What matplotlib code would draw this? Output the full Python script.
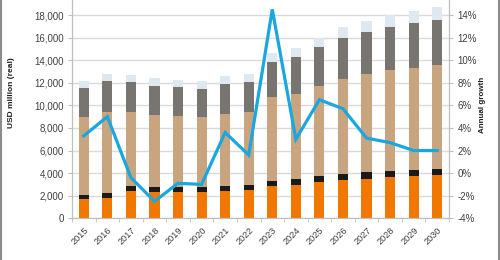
import numpy as np
import matplotlib
matplotlib.use("Agg")
import matplotlib.pyplot as plt
from matplotlib.lines import Line2D
from matplotlib.ticker import FuncFormatter, MultipleLocator

plt.rcParams["font.family"] = ["Liberation Sans", "DejaVu Sans"]

# ------------------------------------------------------------
# Data
# ------------------------------------------------------------
years = [str(y) for y in range(2015, 2031)]

seg_orange = [1700, 1820, 2440, 2350, 2350, 2330, 2415, 2505,
              2885, 2975, 3215, 3390, 3505, 3655, 3745, 3830]
seg_black = [360, 390, 415, 390, 390, 415, 415, 415,
             415, 475, 505, 555, 590, 560, 555, 560]
seg_tan = [6930, 7195, 6520, 6370, 6310, 6195, 6400, 6460,
           7410, 7575, 8020, 8410, 8645, 8885, 8975, 9175]
seg_grey = [2510, 2717, 2655, 2570, 2540, 2505, 2630, 2680,
            3125, 3220, 3400, 3630, 3715, 3805, 3985, 3985]
seg_light = [650, 646, 673, 710, 645, 710, 735, 710,
             770, 795, 850, 975, 1000, 1090, 1090, 1175]

growth = [3.3, 5.0, -0.4, -2.5, -0.9, -1.0, 3.6, 1.6,
          14.5, 3.0, 6.5, 5.7, 3.1, 2.7, 2.0, 2.0]

segments = [
    (seg_orange, "#f07800"),
    (seg_black, "#1c1a18"),
    (seg_tan, "#c9a57f"),
    (seg_grey, "#78746f"),
    (seg_light, "#dde8f1"),
]

# ------------------------------------------------------------
# Plot
# ------------------------------------------------------------
fig = plt.figure(figsize=(5, 2.6), dpi=100)
ax = fig.add_axes([0.144, 0.1604, 0.754, 0.8396])

x = np.arange(len(years))
bottom = np.zeros(len(years))
for vals, col in segments:
    ax.bar(x, vals, width=0.43, bottom=bottom, color=col, zorder=2)
    bottom += np.array(vals)

ax.set_xlim(-0.5, len(years) - 0.5)
ax.set_ylim(0, 19330)
ax.yaxis.set_major_locator(MultipleLocator(2000))
ax.yaxis.set_major_formatter(FuncFormatter(lambda v, p: f"{int(v):,}"))
ax.grid(axis="y", color="#d9d9d9", linewidth=1, zorder=0)
ax.set_axisbelow(True)

ax.set_xticks(x)
ax.set_xticklabels(years, rotation=45, ha="right", rotation_mode="anchor")
ax.set_xticks(np.arange(-0.5, len(years)), minor=True)
ax.tick_params(axis="x", which="major", length=0, pad=5,
               labelsize=6.6, labelcolor="#404040")
ax.tick_params(axis="x", which="minor", length=3, color="#bfbfbf")
ax.tick_params(axis="y", length=3, color="#bfbfbf", labelsize=7,
               labelcolor="#404040", pad=3)

ax.spines["top"].set_visible(False)
for side in ["left", "right", "bottom"]:
    ax.spines[side].set_color("#bfbfbf")

ax2 = ax.twinx()
ax2.plot(x, growth, color="#1aa7df", linewidth=2.3, zorder=3,
         solid_joinstyle="miter")
ax2.set_ylim(-4, 15.33)
ax2.yaxis.set_major_locator(MultipleLocator(2))
ax2.yaxis.set_major_formatter(FuncFormatter(lambda v, p: f"{int(round(v))}%"))
ax2.tick_params(axis="y", length=3, color="#bfbfbf", labelsize=7,
                labelcolor="#404040", pad=3)
ax2.spines["top"].set_visible(False)
for side in ["left", "right", "bottom"]:
    ax2.spines[side].set_color("#bfbfbf")

# axis titles
fig.text(12 / 500, 1 - 93 / 260, "USD million (real)", rotation=90,
         ha="center", va="center", fontsize=6.0, fontweight="bold",
         color="#202020")
fig.text(482 / 500, 1 - 105 / 260, "Annual growth", rotation=90,
         ha="center", va="center", fontsize=5.8, fontweight="bold",
         color="#202020")

# thin frame lines at the image edges
fig.add_artist(Line2D([0.002, 0.002], [0, 1], color="#8c8c8c",
                      linewidth=1.5, transform=fig.transFigure))
fig.add_artist(Line2D([0.998, 0.998], [0, 1], color="#8c8c8c",
                      linewidth=1.5, transform=fig.transFigure))

fig.savefig("out.png", dpi=100)
